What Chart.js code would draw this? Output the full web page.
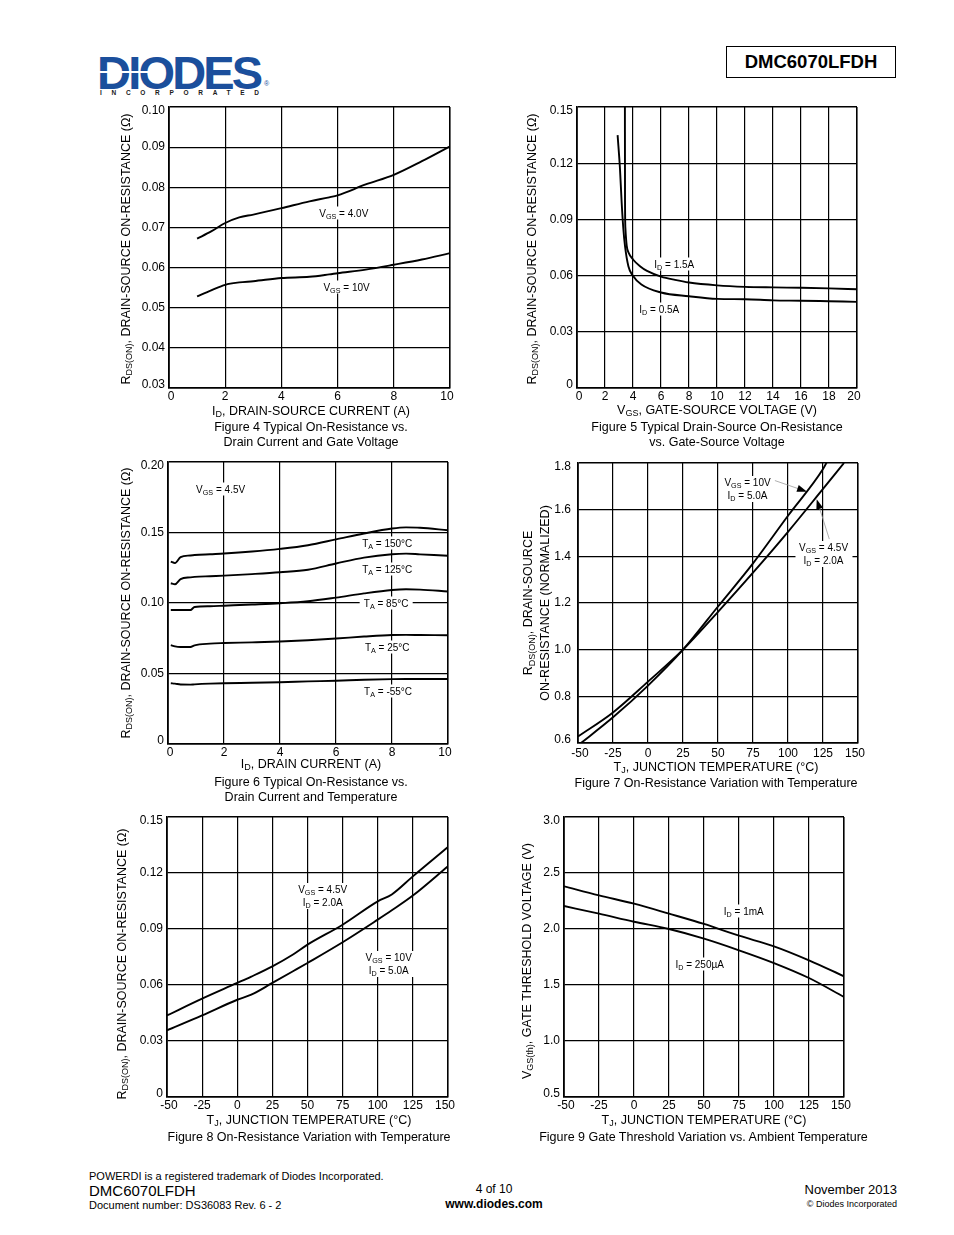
<!DOCTYPE html>
<html>
<head>
<meta charset="utf-8">
<script src="https://cdn.jsdelivr.net/npm/chart.js@4.4.0/dist/chart.umd.min.js"></script>
<style>
  html, body { margin: 0; padding: 0; background: #fff; }
  body { width: 954px; height: 1235px; position: relative; overflow: hidden;
         font-family: "Liberation Sans", Arial, Helvetica, sans-serif; color: #000; }
  .t { position: absolute; white-space: nowrap; line-height: 15px; }
  .c { transform: translate(-50%, -50%); text-align: center; }
  .y { transform: translate(-50%, -50%) rotate(-90deg); text-align: center; }
  .ttl { font-size: 12.5px; }
  canvas { position: absolute; }
  sub { font-size: 0.72em; vertical-align: -0.3em; line-height: 0; }
  .note { position: absolute; font-size: 10px; line-height: 13px; background: #fff; padding: 0 4px;
          white-space: nowrap; text-align: center; transform: translate(-50%, -50%); }
</style>
</head>
<body>

<!-- header -->
<div class="t" style="left:97px; top:49px; font-weight:bold; font-size:47px; line-height:47px; letter-spacing:-2.8px; color:#1b4f9c;">DIODES</div>
<div style="position:absolute; left:97px; top:71px; width:62px; height:2px; background:#fff;"></div>
<div class="t" style="left:264px; top:80px; font-size:7px; line-height:8px; color:#1b4f9c;">®</div>
<div class="t" style="left:100px; top:89px; font-weight:bold; font-size:6.5px; line-height:8px; letter-spacing:9.7px; color:#1a1a1a;">INCORPORATED</div>
<div style="position:absolute; left:726px; top:46px; width:168px; height:30px; border:1.5px solid #000; font-weight:bold; font-size:18.5px; line-height:30px; text-align:center;">DMC6070LFDH</div>

<canvas id="fig4"></canvas>
<canvas id="fig5"></canvas>
<canvas id="fig6"></canvas>
<canvas id="fig7"></canvas>
<canvas id="fig8"></canvas>
<canvas id="fig9"></canvas>

<!-- axis titles and captions -->
<div class="t ttl y" style="left:126px; top:249px;">R<sub>DS(ON)</sub>, DRAIN-SOURCE ON-RESISTANCE (Ω)</div>
<div class="t ttl c" style="left:311px; top:410.5px;">I<sub>D</sub>, DRAIN-SOURCE CURRENT (A)</div>
<div class="t ttl c" style="left:311px; top:427px;">Figure 4 Typical On-Resistance vs.</div>
<div class="t ttl c" style="left:311px; top:441.5px;">Drain Current and Gate Voltage</div>

<div class="t ttl y" style="left:532px; top:249px;">R<sub>DS(ON)</sub>, DRAIN-SOURCE ON-RESISTANCE (Ω)</div>
<div class="t ttl c" style="left:717px; top:410px;">V<sub>GS</sub>, GATE-SOURCE VOLTAGE (V)</div>
<div class="t ttl c" style="left:717px; top:427px;">Figure 5 Typical Drain-Source On-Resistance</div>
<div class="t ttl c" style="left:717px; top:441.5px;">vs. Gate-Source Voltage</div>

<div class="t ttl y" style="left:126px; top:603px;">R<sub>DS(ON)</sub>, DRAIN-SOURCE ON-RESISTANCE (Ω)</div>
<div class="t ttl c" style="left:311px; top:764px;">I<sub>D</sub>, DRAIN CURRENT (A)</div>
<div class="t ttl c" style="left:311px; top:782px;">Figure 6 Typical On-Resistance vs.</div>
<div class="t ttl c" style="left:311px; top:796.5px;">Drain Current and Temperature</div>

<div class="t ttl y" style="left:536.5px; top:603px; line-height:17px;">R<sub>DS(ON)</sub>, DRAIN-SOURCE<br>ON-RESISTANCE (NORMALIZED)</div>
<div class="t ttl c" style="left:716px; top:767px;">T<sub>J</sub>, JUNCTION TEMPERATURE (°C)</div>
<div class="t ttl c" style="left:716px; top:783px;">Figure 7 On-Resistance Variation with Temperature</div>

<div class="t ttl y" style="left:122px; top:963.5px;">R<sub>DS(ON)</sub>, DRAIN-SOURCE ON-RESISTANCE (Ω)</div>
<div class="t ttl c" style="left:309px; top:1120px;">T<sub>J</sub>, JUNCTION TEMPERATURE (°C)</div>
<div class="t ttl c" style="left:309px; top:1137px;">Figure 8 On-Resistance Variation with Temperature</div>

<div class="t ttl y" style="left:527px; top:960.5px;">V<sub>GS(th)</sub>, GATE THRESHOLD VOLTAGE (V)</div>
<div class="t ttl c" style="left:704px; top:1120px;">T<sub>J</sub>, JUNCTION TEMPERATURE (°C)</div>
<div class="t ttl c" style="left:703.5px; top:1137px;">Figure 9 Gate Threshold Variation vs. Ambient Temperature</div>

<!-- footer -->
<div class="t" style="left:89px; top:1169px; font-size:11px; line-height:14px;">POWERDI is a registered trademark of Diodes Incorporated.</div>
<div class="t" style="left:89px; top:1182px; font-size:15px; line-height:17px;">DMC6070LFDH</div>
<div class="t" style="left:89px; top:1198px; font-size:11px; line-height:14px;">Document number: DS36083 Rev. 6 - 2</div>
<div class="t c" style="left:494px; top:1189px; font-size:12px;">4 of 10</div>
<div class="t c" style="left:494px; top:1204px; font-size:12px; font-weight:bold;">www.diodes.com</div>
<div class="t" style="right:57px; top:1182px; font-size:13px; line-height:16px;">November 2013</div>
<div class="t" style="right:57px; top:1198px; font-size:9px; line-height:12px;">© Diodes Incorporated</div>

<script>
const FONT = '"Liberation Sans", Arial, Helvetica, sans-serif'

// Figure 4: Rds(on) vs drain current
const fig4XTicks = ['0', '2', '4', '6', '8', '10']
const fig4YTicks = ['0.03', '0.04', '0.05', '0.06', '0.07', '0.08', '0.09', '0.10']
const fig4Id = [1, 1.5, 2, 2.5, 3, 4, 5, 5.7, 6, 7, 8, 9, 10]
const fig4Vgs4 = [0.0672, 0.0690, 0.0711, 0.0725, 0.0732, 0.0748, 0.0765, 0.0775, 0.0780, 0.0807, 0.0831, 0.0865, 0.0902]
const fig4Vgs10 = [0.0528, 0.0543, 0.0557, 0.0563, 0.0566, 0.0574, 0.0577, 0.0583, 0.0586, 0.0595, 0.0607, 0.0620, 0.0636]

// Figure 5: Rds(on) vs gate voltage
const fig5XTicks = ['0', '2', '4', '6', '8', '10', '12', '14', '16', '18', '20']
const fig5YTicks = ['0', '0.03', '0.06', '0.09', '0.12', '0.15']
const fig5VgsA = [2.9, 3.07, 3.19, 3.31, 3.43, 3.67, 3.98, 4.6, 6, 8, 10, 12, 14, 16, 18, 20]
const fig5Id05 = [0.135, 0.117, 0.099, 0.085, 0.0757, 0.065, 0.060, 0.0552, 0.0510, 0.0490, 0.0476, 0.0474, 0.0468, 0.0466, 0.0463, 0.0460]
const fig5VgsB = [3.42, 3.43, 3.46, 3.55, 3.7, 4.0, 4.5, 5, 6, 7, 8, 10, 12, 14, 16, 18, 20]
const fig5Id15 = [0.16, 0.10, 0.085, 0.076, 0.072, 0.0686, 0.0650, 0.0625, 0.0595, 0.0577, 0.0563, 0.0548, 0.0540, 0.0537, 0.0535, 0.0532, 0.0527]

// Figure 6: Rds(on) vs drain current and temperature
const fig6XTicks = ['0', '2', '4', '6', '8', '10']
const fig6YTicks = ['0', '0.05', '0.10', '0.15', '0.20']
const fig6Id = [0.1, 0.25, 0.45, 0.8, 0.95, 1.5, 2, 3, 4, 5, 6, 7, 8, 8.5, 9, 10]
const fig6T150 = [0.1294, 0.1283, 0.1325, 0.1337, 0.1340, 0.1346, 0.1351, 0.1365, 0.1384, 0.1410, 0.1451, 0.1493, 0.1528, 0.1536, 0.1534, 0.1516]
const fig6T125 = [0.1140, 0.1133, 0.1170, 0.1182, 0.1185, 0.1190, 0.1194, 0.1205, 0.1218, 0.1236, 0.1280, 0.1322, 0.1346, 0.1350, 0.1345, 0.1335]
const fig6T85 = [0.0950, 0.0950, 0.0950, 0.0950, 0.0972, 0.0977, 0.0981, 0.0989, 0.0998, 0.1012, 0.1038, 0.1068, 0.1092, 0.1097, 0.1095, 0.1082]
const fig6T25 = [0.0701, 0.0692, 0.0688, 0.0688, 0.0700, 0.0712, 0.0716, 0.0721, 0.0727, 0.0736, 0.0748, 0.0762, 0.0773, 0.0774, 0.0773, 0.0771]
const fig6Tm55 = [0.0431, 0.0428, 0.0422, 0.0421, 0.0423, 0.0428, 0.0431, 0.0434, 0.0438, 0.0444, 0.0449, 0.0456, 0.0460, 0.0461, 0.0461, 0.0461]

// Figure 7: normalized Rds(on) vs temperature
const fig7XTicks = ['-50', '-25', '0', '25', '50', '75', '100', '125', '150']
const fig7YTicks = ['0.6', '0.8', '1.0', '1.2', '1.4', '1.6', '1.8']
const fig7TempA = [-50, -25, 0, 25, 50, 75, 100, 125, 140]
const fig7Vgs45 = [0.628, 0.731, 0.863, 1.0, 1.162, 1.33, 1.505, 1.689, 1.8]
const fig7TempB = [-50, -25, 0, 25, 50, 75, 100, 125, 130]
const fig7Vgs10 = [0.59, 0.71, 0.846, 1.0, 1.185, 1.37, 1.574, 1.774, 1.83]

// Figure 8: Rds(on) vs temperature
const fig8XTicks = ['-50', '-25', '0', '25', '50', '75', '100', '125', '150']
const fig8YTicks = ['0', '0.03', '0.06', '0.09', '0.12', '0.15']
const fig8Temp = [-50, -25, 0, 10, 25, 40, 50, 75, 100, 110, 125, 150]
const fig8Vgs45 = [0.0437, 0.0527, 0.0611, 0.0645, 0.0700, 0.0765, 0.0816, 0.0923, 0.1048, 0.1085, 0.1182, 0.1339]
const fig8Vgs10 = [0.0357, 0.0437, 0.0521, 0.0548, 0.0611, 0.0675, 0.0718, 0.0829, 0.0950, 0.1000, 0.1079, 0.1236]

// Figure 9: gate threshold vs temperature
const fig9XTicks = ['-50', '-25', '0', '25', '50', '75', '100', '125', '150']
const fig9YTicks = ['0.5', '1.0', '1.5', '2.0', '2.5', '3.0']
const fig9Temp = [-50, -25, 0, 25, 50, 75, 100, 125, 150]
const fig9Id1mA = [2.381, 2.30, 2.226, 2.137, 2.045, 1.94, 1.845, 1.72, 1.577]
const fig9Id250u = [2.205, 2.137, 2.065, 2.0, 1.914, 1.81, 1.696, 1.5625, 1.393]

const pts = (xs, ys) => xs.map((x, i) => ({x: x, y: ys[i]}))

function plot(id, area, xLabels, yLabels, lines, notes, arrows, gap) {
    const pad = {l: 50, r: 24, t: 16, b: 26}
    const cv = document.getElementById(id)
    cv.width = area.w + pad.l + pad.r
    cv.height = area.h + pad.t + pad.b
    const offX = area.x - pad.l, offY = area.y - pad.t
    cv.style.left = offX + 'px'
    cv.style.top = offY + 'px'

    const grid = {
        color: '#000',
        lineWidth: c => (c.index === 0 || c.index === c.scale.ticks.length - 1) ? 1.6 : 1.2,
        drawTicks: false
    }
    const tickFont = {family: FONT, size: 12, lineHeight: 1}

    const extras = {
        id: 'extras',
        beforeDraw(chart) {
            // nudge the outermost tick labels inward, as in the original
            const ys = chart.scales.y.getLabelItems()
            const xs = chart.scales.x.getLabelItems()
            if (!ys._moved) {
                ys[0].options.translation[1] -= 3.5
                ys[ys.length - 1].options.translation[1] += 3.5
                xs[0].options.translation[0] += 2
                xs[xs.length - 1].options.translation[0] -= 3
                ys._moved = true
            }
        },
        afterDatasetsDraw(chart) {
            const ctx = chart.ctx, sx = chart.scales.x, sy = chart.scales.y
            for (const a of arrows) {
                const x0 = sx.getPixelForValue(a.from[0]), y0 = sy.getPixelForValue(a.from[1])
                const x1 = sx.getPixelForValue(a.to[0]), y1 = sy.getPixelForValue(a.to[1])
                const ang = Math.atan2(y1 - y0, x1 - x0)
                ctx.save()
                ctx.strokeStyle = '#9a9a9a'
                ctx.lineWidth = 0.8
                ctx.beginPath()
                ctx.moveTo(x0, y0)
                ctx.lineTo(x1 - 8 * Math.cos(ang), y1 - 8 * Math.sin(ang))
                ctx.stroke()
                ctx.fillStyle = '#000'
                ctx.beginPath()
                ctx.moveTo(x1, y1)
                ctx.lineTo(x1 - 10 * Math.cos(ang) + 3.5 * Math.sin(ang), y1 - 10 * Math.sin(ang) - 3.5 * Math.cos(ang))
                ctx.lineTo(x1 - 10 * Math.cos(ang) - 3.5 * Math.sin(ang), y1 - 10 * Math.sin(ang) + 3.5 * Math.cos(ang))
                ctx.closePath()
                ctx.fill()
                ctx.restore()
            }
        },
        afterDraw(chart) {
            if (chart._notesDone) return
            chart._notesDone = true
            for (const n of notes) {
                const d = document.createElement('div')
                d.className = 'note'
                d.innerHTML = n.html
                d.style.left = (offX + chart.scales.x.getPixelForValue(n.x)) + 'px'
                d.style.top = (offY + chart.scales.y.getPixelForValue(n.y)) + 'px'
                document.body.appendChild(d)
            }
        }
    }

    new Chart(cv, {
        type: 'line',
        data: {
            datasets: lines.map(l => ({
                data: l,
                borderColor: '#000',
                borderWidth: 1.9,
                pointRadius: 0,
                fill: false,
                cubicInterpolationMode: 'monotone'
            }))
        },
        options: {
            responsive: false,
            animation: false,
            devicePixelRatio: 1,
            layout: {padding: {left: 0, top: pad.t, right: pad.r, bottom: 0}},
            plugins: {legend: {display: false}, tooltip: {enabled: false}},
            scales: {
                x: {
                    type: 'linear',
                    min: Number(xLabels[0]),
                    max: Number(xLabels[xLabels.length - 1]),
                    afterBuildTicks: s => { s.ticks = xLabels.map(v => ({value: Number(v)})) },
                    afterFit: s => { s.height = pad.b },
                    grid: grid,
                    border: {color: '#000', width: 1.6},
                    ticks: {color: '#000', font: tickFont, padding: gap.x, maxRotation: 0, autoSkip: false,
                            callback: (v, i) => xLabels[i]}
                },
                y: {
                    type: 'linear',
                    min: Number(yLabels[0]),
                    max: Number(yLabels[yLabels.length - 1]),
                    afterBuildTicks: s => { s.ticks = yLabels.map(v => ({value: Number(v)})) },
                    afterFit: s => { s.width = pad.l },
                    grid: grid,
                    border: {color: '#000', width: 1.6},
                    ticks: {color: '#000', font: tickFont, padding: gap.y, autoSkip: false,
                            callback: (v, i) => yLabels[i]}
                }
            }
        },
        plugins: [extras]
    })
}

plot('fig4', {x: 169, y: 107, w: 281, h: 281}, fig4XTicks, fig4YTicks,
    [pts(fig4Id, fig4Vgs4), pts(fig4Id, fig4Vgs10)],
    [{html: 'V<sub>GS</sub> = 4.0V', x: 6.22, y: 0.0737},
     {html: 'V<sub>GS</sub> = 10V', x: 6.32, y: 0.0552}],
    [], {x: 3, y: 4})

plot('fig5', {x: 577, y: 107, w: 280, h: 281}, fig5XTicks, fig5YTicks,
    [pts(fig5VgsA, fig5Id05), pts(fig5VgsB, fig5Id15)],
    [{html: 'I<sub>D</sub> = 1.5A', x: 6.95, y: 0.0663},
     {html: 'I<sub>D</sub> = 0.5A', x: 5.88, y: 0.0423}],
    [], {x: 3, y: 4})

plot('fig6', {x: 168, y: 462, w: 280, h: 282}, fig6XTicks, fig6YTicks,
    [pts(fig6Id, fig6T150), pts(fig6Id, fig6T125), pts(fig6Id, fig6T85), pts(fig6Id, fig6T25), pts(fig6Id, fig6Tm55)],
    [{html: 'V<sub>GS</sub> = 4.5V', x: 1.88, y: 0.1811},
     {html: 'T<sub>A</sub> = 150°C', x: 7.83, y: 0.1424},
     {html: 'T<sub>A</sub> = 125°C', x: 7.83, y: 0.1240},
     {html: 'T<sub>A</sub> = 85°C', x: 7.79, y: 0.0999},
     {html: 'T<sub>A</sub> = 25°C', x: 7.83, y: 0.0690},
     {html: 'T<sub>A</sub> = -55°C', x: 7.86, y: 0.0378}],
    [], {x: 3, y: 4})

plot('fig7', {x: 578, y: 463, w: 280, h: 280}, fig7XTicks, fig7YTicks,
    [pts(fig7TempA, fig7Vgs45), pts(fig7TempB, fig7Vgs10)],
    [{html: 'V<sub>GS</sub> = 10V<br>I<sub>D</sub> = 5.0A', x: 71.1, y: 1.689},
     {html: 'V<sub>GS</sub> = 4.5V<br>I<sub>D</sub> = 2.0A', x: 125.4, y: 1.41}],
    [{from: [88.6, 1.729], to: [113.6, 1.677]},
     {from: [129.5, 1.474], to: [120.5, 1.645]}], {x: 5, y: 7})

plot('fig8', {x: 167, y: 817, w: 281, h: 280}, fig8XTicks, fig8YTicks,
    [pts(fig8Temp, fig8Vgs45), pts(fig8Temp, fig8Vgs10)],
    [{html: 'V<sub>GS</sub> = 4.5V<br>I<sub>D</sub> = 2.0A', x: 60.8, y: 0.1078},
     {html: 'V<sub>GS</sub> = 10V<br>I<sub>D</sub> = 5.0A', x: 107.8, y: 0.0714}],
    [], {x: 3, y: 4})

plot('fig9', {x: 564, y: 817, w: 280, h: 280}, fig9XTicks, fig9YTicks,
    [pts(fig9Temp, fig9Id1mA), pts(fig9Temp, fig9Id250u)],
    [{html: 'I<sub>D</sub> = 1mA', x: 78.4, y: 2.163},
     {html: 'I<sub>D</sub> = 250µA', x: 46.9, y: 1.69}],
    [], {x: 3, y: 4})
</script>
</body>
</html>
